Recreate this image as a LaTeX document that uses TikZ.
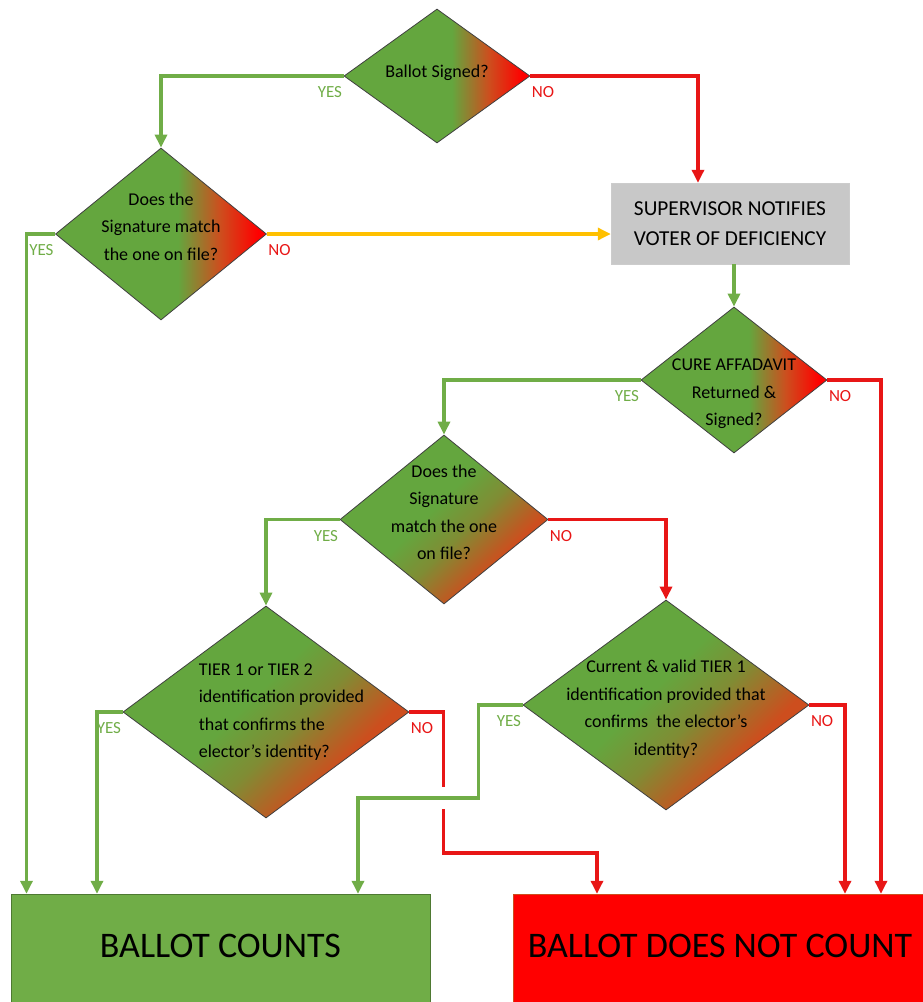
\documentclass[tikz,border=0pt]{standalone}
\usepackage{fontspec}
\setmainfont{Carlito}
\usetikzlibrary{shapes.geometric, arrows.meta, calc}
\definecolor{dgreen}{RGB}{100,166,62}
\definecolor{lgreen}{RGB}{112,173,71}
\definecolor{rust}{RGB}{205,78,30}
\definecolor{olive}{RGB}{128,140,52}
\definecolor{nored}{RGB}{232,22,22}
\definecolor{retry}{RGB}{255,192,0}
\definecolor{supgray}{RGB}{200,200,200}
\pgfdeclarehorizontalshading{greenred}{100bp}{color(0bp)=(dgreen); color(54bp)=(dgreen); color(64bp)=(rust); color(73bp)=(red); color(100bp)=(red)}
\pgfdeclareverticalshading{greenrust}{100bp}{color(0bp)=(rust); color(32bp)=(rust); color(44bp)=(olive); color(54bp)=(dgreen); color(100bp)=(dgreen)}
\newcommand{\dfont}{\fontsize{18}{27.5}\selectfont}
\tikzstyle{decision} = [diamond, draw=black!75, line width=0.8pt, inner sep=0pt]
\tikzstyle{sidefade} = [shade, shading=greenred]
\tikzstyle{cornerfade} = [shade, shading=greenrust, shading angle=45]
\tikzstyle{dtext} = [font=\dfont, align=center, text=black, inner sep=0pt]
\tikzstyle{process} = [rectangle, minimum width=238pt, minimum height=81pt, align=center, draw=black!20, fill=supgray, font=\fontsize{21.3}{30}\selectfont]
\tikzstyle{outcome} = [rectangle, minimum height=112pt, text height=23pt, text depth=8pt, font=\fontsize{36}{40}\selectfont]
\tikzstyle{yeslabel} = [text=lgreen, font=\fontsize{17}{20}\selectfont, inner xsep=0pt, inner ysep=9pt]
\tikzstyle{nolabel} = [text=nored, font=\fontsize{17}{20}\selectfont, inner xsep=0pt, inner ysep=9pt]
\tikzstyle{yesarrow} = [line width=3.2pt, draw=lgreen, ->, >={Triangle[length=13pt, width=12pt]}]
\tikzstyle{noarrow} = [line width=3.2pt, draw=nored, ->, >={Triangle[length=13pt, width=12pt]}]
\tikzstyle{retryarrow} = [line width=3.2pt, draw=retry, ->, >={Triangle[length=13pt, width=12pt]}]

\begin{document}
\begin{tikzpicture}[x=1pt, y=1pt, node distance=150pt]
  \useasboundingbox (-437,76) rectangle (485,-926);
  \node (signed) [decision, sidefade, minimum width=186pt, minimum height=134pt, label={[dtext, yshift=3.5pt]center:Ballot Signed?}] {};
  \node (match1) [decision, sidefade, minimum width=211pt, minimum height=172pt, below of = signed, xshift=-276pt, yshift=-8pt, label={[dtext, yshift=7.5pt]center:Does the\\Signature match\\the one on file?}] {};
  \node (notify) [process, below of = signed, xshift=293pt, yshift=2.5pt] {SUPERVISOR NOTIFIES\\VOTER OF DEFICIENCY};
  \node (cure) [decision, sidefade, minimum width=186pt, minimum height=146pt, below of = notify, xshift=4pt, yshift=-6.5pt, label={[dtext, yshift=-14pt]center:CURE AFFADAVIT\\Returned \&\\Signed?}] {};
  \node (match2) [decision, cornerfade, minimum width=208pt, minimum height=169pt, below of = cure, xshift=-290pt, yshift=10.5pt, label={[dtext, yshift=7pt]center:Does the\\Signature\\match the one\\on file?}] {};
  \node (tier) [decision, cornerfade, minimum width=286pt, minimum height=212pt, below of = match2, xshift=-178pt, yshift=-42.5pt, label={[dtext, align=left, xshift=15.5pt]center:TIER 1 or TIER 2\\identification provided\\that confirms the\\elector’s identity?}] {};
  \node (valid) [decision, cornerfade, minimum width=286pt, minimum height=210pt, right of = tier, xshift=250pt, yshift=7pt, label={[dtext, yshift=-4pt]center:Current \& valid TIER 1\\identification provided that\\confirms~ the elector’s\\identity?}] {};
  \node (counts) [outcome, minimum width=419pt, draw=lgreen!70!black, fill=lgreen, below of = tier, xshift=-45.5pt, yshift=-88pt] {BALLOT COUNTS};
  \node (nocount) [outcome, minimum width=414pt, draw=rust, fill=red, right of = counts, xshift=349.5pt] {BALLOT DOES NOT COUNT};
  \coordinate (nodrop) at ($(tier.east)+(34pt,-141pt)$);
  \coordinate (yesdrop) at ($(valid.west)+(-44pt,-93pt)$);
  \draw [yesarrow] (signed.west) -| node[yeslabel, pos=0, anchor=north east] {YES} (match1.north);
  \draw [noarrow] (signed.east) -| node[nolabel, pos=0, anchor=north west] {NO} ([xshift=-32pt]notify.north);
  \draw [yesarrow] (match1.west) -| node[yeslabel, pos=0, anchor=north east] {YES} ([xshift=-194pt]counts.north);
  \draw [retryarrow] (match1.east) -- node[nolabel, pos=0, anchor=north west] {NO} (match1.east -| notify.west);
  \draw [yesarrow] (notify.south -| cure.north) -- (cure.north);
  \draw [yesarrow] (cure.west) -| node[yeslabel, pos=0, anchor=north east] {YES} (match2.north);
  \draw [noarrow] (cure.east) -| node[nolabel, pos=0, anchor=north west] {NO} ([xshift=161pt]nocount.north);
  \draw [yesarrow] (match2.west) -| node[yeslabel, pos=0, anchor=north east] {YES} (tier.north);
  \draw [noarrow] (match2.east) -| node[nolabel, pos=0, anchor=north west] {NO} (valid.north);
  \draw [yesarrow] (tier.west) -| node[yeslabel, pos=0, anchor=north east] {YES} ([xshift=-123.5pt]counts.north);
  \draw [noarrow] (tier.east) -| node[nolabel, pos=0, anchor=north west] {NO} (nodrop) -| ([xshift=-123pt]nocount.north);
  \draw [white, line width=8pt] ($(nodrop |- yesdrop)+(0,11pt)$) -- ($(nodrop |- yesdrop)+(0,-11pt)$);
  \draw [yesarrow] (valid.west) -| node[yeslabel, pos=0, anchor=north east] {YES} (yesdrop) -| ([xshift=137.5pt]counts.north);
  \draw [noarrow] (valid.east) -| node[nolabel, pos=0, anchor=north west] {NO} ([xshift=125pt]nocount.north);
\end{tikzpicture}
\end{document}
